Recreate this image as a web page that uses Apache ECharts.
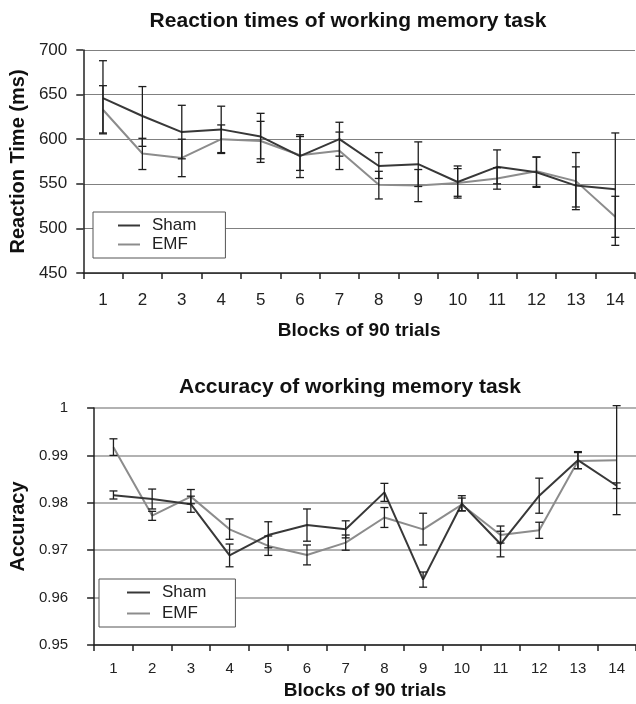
<!DOCTYPE html>
<html>
<head>
<meta charset="utf-8">
<script src="https://cdn.jsdelivr.net/npm/echarts@6/dist/echarts.min.js"></script>
<style>
html,body{margin:0;padding:0;background:#fff;}
#chart{width:636px;height:704px;}
</style>
</head>
<body>
<div id="chart"></div>
<script>
const categories = ['1','2','3','4','5','6','7','8','9','10','11','12','13','14'];

// Reaction times (ms)
const shamRT     = [646, 626, 608, 611, 603, 581, 600, 570, 572, 552, 569, 563, 548, 544];
const shamRTLow  = [606, 592, 578, 585, 578, 557, 581, 556, 547, 536, 550, 546, 521, 481];
const shamRTHigh = [688, 659, 638, 637, 629, 605, 619, 585, 597, 570, 588, 580, 585, 607];
const emfRT      = [633, 584, 579, 600, 598, 582, 587, 549, 548, 551, 556, 564, 553, 513];
const emfRTLow   = [607, 566, 558, 584, 574, 565, 566, 533, 530, 534, 544, 547, 524, 490];
const emfRTHigh  = [660, 601, 600, 616, 620, 603, 608, 564, 566, 567, 568, 580, 569, 536];

// Accuracy
const shamAcc     = [0.9816, 0.9808, 0.9797, 0.9689, 0.9732, 0.9753, 0.9744, 0.9822, 0.9638, 0.9798, 0.9713, 0.9815, 0.9890, 0.9836];
const shamAccLow  = [0.9808, 0.9787, 0.9780, 0.9665, 0.9705, 0.9719, 0.9726, 0.9803, 0.9622, 0.9783, 0.9686, 0.9778, 0.9872, 0.9830];
const shamAccHigh = [0.9825, 0.9829, 0.9814, 0.9713, 0.9760, 0.9787, 0.9762, 0.9841, 0.9654, 0.9815, 0.9740, 0.9852, 0.9908, 0.9842];
const emfAcc      = [0.9917, 0.9773, 0.9813, 0.9744, 0.9709, 0.9690, 0.9716, 0.9769, 0.9744, 0.9796, 0.9732, 0.9742, 0.9888, 0.9890];
const emfAccLow   = [0.9900, 0.9763, 0.9798, 0.9723, 0.9689, 0.9669, 0.9700, 0.9748, 0.9711, 0.9783, 0.9715, 0.9725, 0.9872, 0.9775];
const emfAccHigh  = [0.9935, 0.9782, 0.9828, 0.9766, 0.9730, 0.9711, 0.9732, 0.9790, 0.9778, 0.9810, 0.9751, 0.9759, 0.9906, 1.0005];

const rtTicks = [450, 500, 550, 600, 650, 700];
const accTicks = [0.95, 0.96, 0.97, 0.98, 0.99, 1];

const FONT = '"Liberation Sans", Arial, sans-serif';
const SHAM_COLOR = '#383838';
const EMF_COLOR = '#8c8c8c';
const ERR_COLOR = '#1e1e1e';

function errData(low, high) {
  return categories.map((c, i) => [i, low[i], high[i]]);
}
function renderErr(params, api) {
  const x = api.value(0);
  const lo = api.coord([x, api.value(1)]);
  const hi = api.coord([x, api.value(2)]);
  const hw = 4;
  const st = { stroke: ERR_COLOR, lineWidth: 1.3 };
  return {
    type: 'group',
    children: [
      { type: 'line', shape: { x1: lo[0], y1: lo[1], x2: hi[0], y2: hi[1] }, style: st },
      { type: 'line', shape: { x1: hi[0] - hw, y1: hi[1], x2: hi[0] + hw, y2: hi[1] }, style: st },
      { type: 'line', shape: { x1: lo[0] - hw, y1: lo[1], x2: lo[0] + hw, y2: lo[1] }, style: st }
    ]
  };
}

function xAxisCfg(gridIndex, fs, margin, nameGap) {
  return {
    type: 'category', gridIndex: gridIndex, data: categories, boundaryGap: true,
    axisLine: { show: true, lineStyle: { color: '#222', width: 1.5 } },
    axisTick: { show: true, length: 6, alignWithLabel: false, lineStyle: { color: '#222', width: 1.5 } },
    axisLabel: { fontSize: fs, color: '#222', fontFamily: FONT, margin: margin, interval: 0 },
    splitLine: { show: false },
    name: 'Blocks of 90 trials', nameLocation: 'middle', nameGap: nameGap,
    nameTextStyle: { fontSize: 19, fontWeight: 'bold', color: '#111', fontFamily: FONT }
  };
}

const option = {
  animation: false,
  backgroundColor: '#fff',
  title: [
    { text: 'Reaction times of working memory task', left: 343, top: 6, textAlign: 'center',
      textStyle: { fontSize: 21, fontWeight: 'bold', color: '#111', fontFamily: FONT } },
    { text: 'Accuracy of working memory task', left: 345, top: 372, textAlign: 'center',
      textStyle: { fontSize: 21, fontWeight: 'bold', color: '#111', fontFamily: FONT } }
  ],
  legend: [
    { data: ['Sham', 'EMF'], orient: 'vertical', left: 93, top: 212, icon: 'rect',
      itemWidth: 22, itemHeight: 2, itemGap: 2, padding: [5, 29, 5, 25],
      borderColor: '#555', borderWidth: 1, backgroundColor: '#fff',
      textStyle: { fontSize: 17, color: '#222', fontFamily: FONT, padding: [0, 0, 0, 7] } },
    { data: ['Sham', 'EMF'], orient: 'vertical', left: 99, top: 579, icon: 'rect',
      itemWidth: 23, itemHeight: 2, itemGap: 4, padding: [5, 29, 5, 28],
      borderColor: '#555', borderWidth: 1, backgroundColor: '#fff',
      textStyle: { fontSize: 17, color: '#222', fontFamily: FONT, padding: [0, 0, 0, 7] } }
  ],
  grid: [
    { left: 81, top: 50, width: 554, height: 223 },
    { left: 92, top: 408, width: 550, height: 237 }
  ],
  xAxis: [
    xAxisCfg(0, 17, 19, 48),
    xAxisCfg(1, 15, 16, 36)
  ],
  yAxis: [
    { type: 'value', gridIndex: 0, min: rtTicks[0], max: rtTicks[rtTicks.length - 1], interval: 50,
      axisLine: { show: true, lineStyle: { color: '#222', width: 1.5 } },
      axisTick: { show: true, length: 7, lineStyle: { color: '#222', width: 1.5 } },
      axisLabel: { fontSize: 17, color: '#222', fontFamily: FONT, margin: 16 },
      splitLine: { show: true, lineStyle: { color: '#808080', width: 1.2 } },
      name: 'Reaction Time (ms)', nameLocation: 'middle', nameGap: 48, nameRotate: 90,
      nameTextStyle: { fontSize: 20, fontWeight: 'bold', color: '#111', fontFamily: FONT } },
    { type: 'value', gridIndex: 1, min: accTicks[0], max: accTicks[accTicks.length - 1], interval: 0.01,
      axisLine: { show: true, lineStyle: { color: '#222', width: 1.5 } },
      axisTick: { show: true, length: 7, lineStyle: { color: '#222', width: 1.5 } },
      axisLabel: { fontSize: 15, color: '#222', fontFamily: FONT, margin: 26,
        formatter: v => (Math.abs(v - 1) < 1e-9 ? '1' : v.toFixed(2)) },
      splitLine: { show: true, lineStyle: { color: '#999', width: 1.5 } },
      name: 'Accuracy', nameLocation: 'middle', nameGap: 56, nameRotate: 90,
      nameTextStyle: { fontSize: 20, fontWeight: 'bold', color: '#111', fontFamily: FONT } }
  ],
  series: [
    { name: 'Sham', type: 'line', xAxisIndex: 0, yAxisIndex: 0, data: shamRT, symbol: 'none',
      lineStyle: { color: SHAM_COLOR, width: 2 }, itemStyle: { color: SHAM_COLOR }, z: 3 },
    { name: 'EMF', type: 'line', xAxisIndex: 0, yAxisIndex: 0, data: emfRT, symbol: 'none',
      lineStyle: { color: EMF_COLOR, width: 2 }, itemStyle: { color: EMF_COLOR }, z: 2 },
    { name: 'ShamErrRT', type: 'custom', xAxisIndex: 0, yAxisIndex: 0, data: errData(shamRTLow, shamRTHigh),
      renderItem: renderErr, clip: false, z: 4 },
    { name: 'EMFErrRT', type: 'custom', xAxisIndex: 0, yAxisIndex: 0, data: errData(emfRTLow, emfRTHigh),
      renderItem: renderErr, clip: false, z: 4 },
    { name: 'Sham', type: 'line', xAxisIndex: 1, yAxisIndex: 1, data: shamAcc, symbol: 'none',
      lineStyle: { color: SHAM_COLOR, width: 2 }, itemStyle: { color: SHAM_COLOR }, z: 3 },
    { name: 'EMF', type: 'line', xAxisIndex: 1, yAxisIndex: 1, data: emfAcc, symbol: 'none',
      lineStyle: { color: EMF_COLOR, width: 2 }, itemStyle: { color: EMF_COLOR }, z: 2 },
    { name: 'ShamErrAcc', type: 'custom', xAxisIndex: 1, yAxisIndex: 1, data: errData(shamAccLow, shamAccHigh),
      renderItem: renderErr, clip: false, z: 4 },
    { name: 'EMFErrAcc', type: 'custom', xAxisIndex: 1, yAxisIndex: 1, data: errData(emfAccLow, emfAccHigh),
      renderItem: renderErr, clip: false, z: 4 }
  ]
};

const chart = echarts.init(document.getElementById('chart'), null, { renderer: 'canvas' });
chart.setOption(option);
</script>
</body>
</html>
